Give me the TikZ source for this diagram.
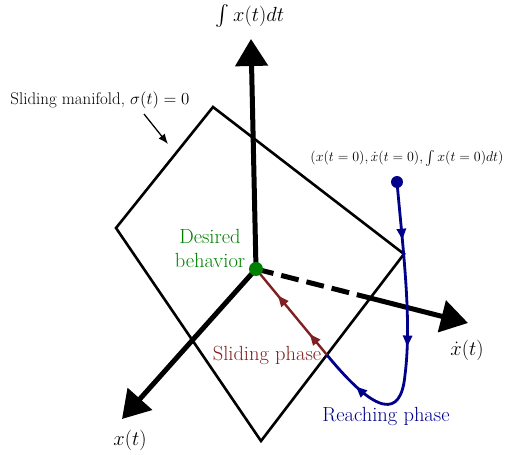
\RequirePackage{fix-cm}
\documentclass[tikz,border=0pt]{standalone}
\usepackage{fontspec}
\usepackage{exscale}
\usetikzlibrary{arrows.meta,decorations.markings}
\definecolor{navyb}{RGB}{0,0,139}
\definecolor{maroonr}{RGB}{128,32,32}
\definecolor{greend}{RGB}{0,128,0}
\begin{document}
\begin{tikzpicture}[x=1pt,y=-1pt,
  plane/.style={line width=2.6pt, line join=miter},
  axisline/.style={line width=5pt},
  axisarrow/.style={line width=5pt, -{Triangle[length=27pt,width=32pt]}},
  lbl/.style={inner sep=0pt, font=\fontsize{20.5}{24}\selectfont},
  smalllbl/.style={inner sep=0pt, font=\fontsize{16.9}{20}\selectfont},
  tinylbl/.style={inner sep=0pt, font=\fontsize{14}{17}\selectfont},
  midarrow/.style={postaction={decorate}, decoration={markings,#1}},
  bluecurve/.style={navyb, line width=2.8pt},
  redcurve/.style={maroonr, line width=2.4pt},
  dot/.style={circle, inner sep=0pt, minimum size=#1},
]
\useasboundingbox (0,0) rectangle (507,455);

% plane (sliding manifold)
\coordinate (pt) at (213,107);
\coordinate (pr) at (404,254);
\coordinate (pb) at (261,441);
\coordinate (pl) at (116,228);
\draw[plane] (pt) -- (pr) -- (pb) -- (pl) -- cycle;

% origin
\coordinate (o) at (256,269);

% axes
\coordinate (ztip) at (251,39);
\coordinate (xtip) at (122,419);
\coordinate (xd) at (370,298);
\coordinate (xdtip) at (468,323);
\draw[axisarrow] (o) -- (ztip);
\draw[axisarrow] (o) -- (xtip);
\draw[axisline, dash pattern=on 18pt off 8pt] (o) -- (xd);
\draw[axisarrow] (xd) -- (xdtip);

\node[lbl] (zl) at (250,16) {$\int x(t)dt$};
\node[lbl] (xl) at (130,440) {$x(t)$};
\node[lbl] (xdl) at (467,350) {$\dot{x}(t)$};

% manifold label
\node[smalllbl] (ml) at (100,100) {Sliding manifold, $\sigma(t)=0$};
\coordinate (ma) at (144,114);
\coordinate (mb) at (168,144);
\draw[line width=1.3pt, -{Latex[length=10pt,width=8pt]}] (ma) -- (mb);

% initial condition
\node[tinylbl] (icl) at (407,158) {$(x(t=0),\dot{x}(t=0),\int x(t=0)dt)$};
\node[dot=12pt, fill=navyb] (s0) at (397,182) {};
\coordinate (bend) at (405,375);
\coordinate (j) at (327,355);

\draw[bluecurve, midarrow={mark=at position 58pt with {\arrow{Triangle[length=11pt,width=9pt]}},
  mark=at position 165pt with {\arrow{Triangle[length=11pt,width=9pt]}},
  mark=at position 268pt with {\arrow{Triangle[length=11pt,width=9pt]}}}]
  (s0.center) .. controls (403,250) and (412,320) .. (bend)
  .. controls (401,418) and (377,416) .. (j);

\draw[redcurve, midarrow={mark=at position 27pt with {\arrow{Triangle[length=11pt,width=9pt]}},
  mark=at position 77pt with {\arrow{Triangle[length=11pt,width=9pt]}}}]
  (j) -- (o);

\node[dot=14pt, fill=greend] (od) at (o) {};

\node[lbl, text=greend, align=center] (dl) at (210,248) {Desired\\behavior};
\node[lbl, text=maroonr] (sl) at (267,355) {Sliding phase};
\node[lbl, text=navyb] (rl) at (386,416) {Reaching phase};
\end{tikzpicture}
\end{document}
